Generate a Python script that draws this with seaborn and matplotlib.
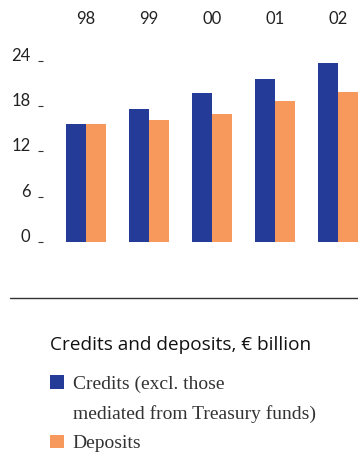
import matplotlib
matplotlib.use("Agg")
import matplotlib.pyplot as plt
import matplotlib.lines as mlines
from matplotlib.patches import Patch
import pandas as pd
import seaborn as sns

# Year labels and values (EUR billion)
years = ["98", "99", "00", "01", "02"]
credits = [15.6, 17.6, 19.75, 21.6, 23.7]
deposits = [15.6, 16.15, 16.95, 18.7, 19.9]
series_names = ["Credits (excl. those mediated from Treasury funds)", "Deposits"]
colors = ["#243C98", "#F7985C"]
y_ticks = [0, 6, 12, 18, 24]
title_text = "Credits and deposits, \u20ac billion"

df = pd.DataFrame({
    "year": years * 2,
    "value": credits + deposits,
    "series": [series_names[0]] * len(years) + [series_names[1]] * len(years),
})

sns.set_style("white")
plt.rcParams["font.family"] = ["Lato", "DejaVu Sans"]

W, H = 358, 454
fig = plt.figure(figsize=(W / 100, H / 100), dpi=100)

# axes placement in pixel terms
left_px, right_px = 43, 358
top_px, zero_px = 53.5, 241.7
ax = fig.add_axes([left_px / W, 1 - zero_px / H, (right_px - left_px) / W, (zero_px - top_px) / H])

sns.barplot(data=df, x="year", y="value", hue="series", palette=colors,
            width=0.65, saturation=1, ax=ax, linewidth=0)

group_px = 63.0
first_center_px = 86.0
ax.set_xlim((left_px - first_center_px) / group_px, (right_px - first_center_px) / group_px)
ax.set_ylim(0, (zero_px - top_px) / ((zero_px - 61.0) / 24))

for s in ax.spines.values():
    s.set_visible(False)

ax.set_yticks(y_ticks)
ax.set_yticklabels([str(t) for t in y_ticks])
ax.tick_params(axis="y", left=True, direction="out", length=3.6, width=0.8,
               color="#333333", pad=5.5, labelsize=12, labelcolor="#222222")
for lab in ax.get_yticklabels():
    lab.set_va("baseline")

ax.xaxis.tick_top()
ax.tick_params(axis="x", top=False, bottom=False, labeltop=True, labelbottom=False,
               length=0, pad=19, labelsize=12, labelcolor="#222222")
ax.set_xlabel("")
ax.set_ylabel("")
ax.grid(False)

# separator rule
fig.add_artist(mlines.Line2D([10 / W, 1.0], [1 - 298 / H, 1 - 298 / H],
                             color="#333333", linewidth=1.0))

# heading above the key
fig.text(50 / W, 1 - 350 / H, title_text, family=["Open Sans", "DejaVu Sans"],
         size=13.7, color="#111111", va="baseline", ha="left")

# key: the long credits label wraps onto a second row without a swatch
seaborn_handles = ax.get_legend().legend_handles
ax.get_legend().remove()
blank = Patch(facecolor="none", edgecolor="none")
key_handles = [seaborn_handles[0], blank, seaborn_handles[1]]
key_labels = ["Credits (excl. those", "mediated from Treasury funds)", series_names[1]]
leg = fig.legend(key_handles, key_labels, loc="upper left",
                 bbox_to_anchor=(50 / W, 1 - 375 / H), bbox_transform=fig.transFigure,
                 frameon=False, prop={"family": "Liberation Serif", "size": 14},
                 handlelength=0.7, handleheight=0.7, handletextpad=0.47,
                 labelspacing=0.62, borderaxespad=0, borderpad=0)
for t in leg.get_texts():
    t.set_color("#333333")

fig.savefig("out.png", dpi=100)
